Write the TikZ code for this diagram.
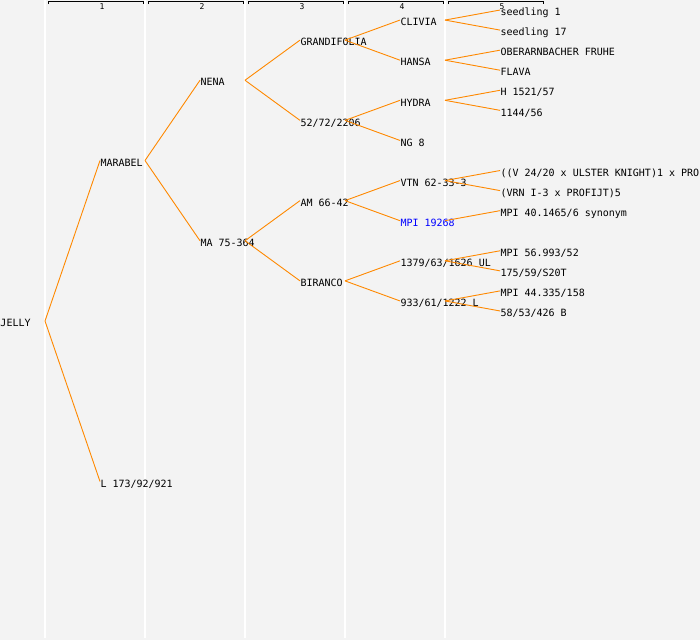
\documentclass[tikz,border=0pt]{standalone}
\usepackage{fontspec}
\setmonofont{DejaVu Sans Mono}
\definecolor{bgc}{HTML}{F3F3F3}
\definecolor{linkc}{RGB}{255,136,0}
\definecolor{bluec}{HTML}{0000FF}
\tikzset{
  pname/.style={anchor=base west, inner sep=0pt, outer sep=0pt, font=\ttfamily\fontsize{10}{12}\selectfont},
  linkline/.style={draw=linkc, line width=0.9pt},
  colsep/.style={draw=white, line width=1.3pt},
  bracketline/.style={draw=black, line width=0.9pt},
  colnum/.style={inner sep=0pt, font=\ttfamily\fontsize{8}{9}\selectfont},
}
% id, x, slot y, text, colour
\newcommand\indiv[5]{%
  \coordinate (#1) at (#2,#3);
  \coordinate (#1j) at (#2+45,#3);
  \node[pname,text=#5] (#1t) at (#2+0.5,#3+5.7) {#4};
}
\begin{document}
\begin{tikzpicture}[x=1pt,y=-1pt]
\path[fill=bgc] (0,0) rectangle (700,640);
\useasboundingbox (0,0) rectangle (700,640);
\clip (0,0) rectangle (700,640);

% column separators
\foreach \c in {45,145,245,345,445}
  \draw[colsep] (\c,0) -- (\c,638);

% column headers
\foreach \k in {1,...,5} {
  \draw[bracketline] (48+100*\k-100,4) -- (48+100*\k-100,1.5) -- (143+100*\k-100,1.5) -- (143+100*\k-100,4);
  \node[colnum] (h\k) at (102+100*\k-100,6.5) {\k};
}

% generation 1
\indiv{a}{0}{321}{JELLY}{black}
% generation 2
\indiv{b1}{100}{160.5}{MARABEL}{black}
\indiv{b2}{100}{481.5}{L 173/92/921}{black}
% generation 3
\indiv{c1}{200}{80.25}{NENA}{black}
\indiv{c2}{200}{240.75}{MA 75-364}{black}
% generation 4
\indiv{d1}{300}{40.125}{GRANDIFOLIA}{black}
\indiv{d2}{300}{120.375}{52/72/2206}{black}
\indiv{d3}{300}{200.625}{AM 66-42}{black}
\indiv{d4}{300}{280.875}{BIRANCO}{black}
% generation 5
\indiv{e1}{400}{20.06}{CLIVIA}{black}
\indiv{e2}{400}{60.19}{HANSA}{black}
\indiv{e3}{400}{100.31}{HYDRA}{black}
\indiv{e4}{400}{140.44}{NG 8}{black}
\indiv{e5}{400}{180.56}{VTN 62-33-3}{black}
\indiv{e6}{400}{220.69}{MPI 19268}{bluec}
\indiv{e7}{400}{260.81}{1379/63/1626 UL}{black}
\indiv{e8}{400}{300.94}{933/61/1222 L}{black}
% generation 6
\indiv{f1}{500}{10.03}{seedling 1}{black}
\indiv{f2}{500}{30.09}{seedling 17}{black}
\indiv{f3}{500}{50.16}{OBERARNBACHER FRUHE}{black}
\indiv{f4}{500}{70.22}{FLAVA}{black}
\indiv{f5}{500}{90.28}{H 1521/57}{black}
\indiv{f6}{500}{110.34}{1144/56}{black}
\indiv{f9}{500}{170.53}{((V 24/20 x ULSTER KNIGHT)1 x PROF}{black}
\indiv{f10}{500}{190.59}{(VRN I-3 x PROFIJT)5}{black}
\indiv{f11}{500}{210.66}{MPI 40.1465/6 synonym}{black}
\indiv{f13}{500}{250.78}{MPI 56.993/52}{black}
\indiv{f14}{500}{270.84}{175/59/S20T}{black}
\indiv{f15}{500}{290.91}{MPI 44.335/158}{black}
\indiv{f16}{500}{310.97}{58/53/426 B}{black}

% connectors
\foreach \p/\ch in {a/b1,a/b2,b1/c1,b1/c2,c1/d1,c1/d2,c2/d3,c2/d4,
  d1/e1,d1/e2,d2/e3,d2/e4,d3/e5,d3/e6,d4/e7,d4/e8,
  e1/f1,e1/f2,e2/f3,e2/f4,e3/f5,e3/f6,e5/f9,e5/f10,e6/f11,
  e7/f13,e7/f14,e8/f15,e8/f16}
  \draw[linkline] (\p j) -- (\ch);
\end{tikzpicture}
\end{document}
